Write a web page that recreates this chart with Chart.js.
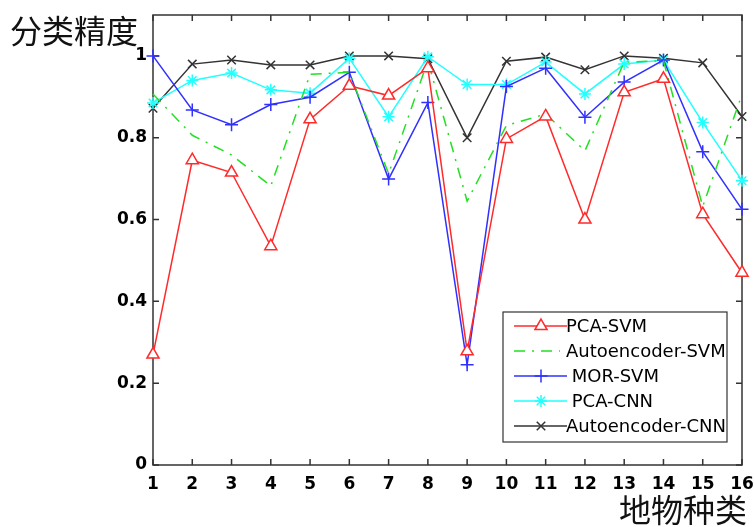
<!DOCTYPE html>
<html>
<head>
<meta charset="utf-8">
<script src="https://cdn.jsdelivr.net/npm/chart.js@4/dist/chart.umd.min.js"></script>
<style>
  html, body { margin: 0; padding: 0; background: #fff; }
  #wrap { width: 754px; height: 527px; }
</style>
</head>
<body>
<div id="wrap"><canvas id="accChart" width="754" height="527"></canvas></div>
<script>
// classes 1..16 and per-class accuracy for each method
const classes = [1, 2, 3, 4, 5, 6, 7, 8, 9, 10, 11, 12, 13, 14, 15, 16];
const yTicks = [0, 0.2, 0.4, 0.6, 0.8, 1.0];

const pcaSvm = [0.270, 0.745, 0.715, 0.535, 0.845, 0.927, 0.903, 0.970, 0.278, 0.797, 0.852, 0.600, 0.911, 0.944, 0.613, 0.470];
const aeSvm  = [0.907, 0.806, 0.758, 0.682, 0.955, 0.960, 0.712, 0.988, 0.645, 0.830, 0.858, 0.768, 0.985, 0.988, 0.632, 0.906];
const morSvm = [1.000, 0.868, 0.832, 0.881, 0.899, 0.960, 0.699, 0.886, 0.245, 0.925, 0.970, 0.850, 0.936, 0.990, 0.766, 0.625];
const pcaCnn = [0.885, 0.940, 0.958, 0.917, 0.909, 0.994, 0.851, 0.998, 0.930, 0.930, 0.985, 0.907, 0.980, 0.990, 0.837, 0.695];
const aeCnn  = [0.872, 0.980, 0.990, 0.978, 0.978, 1.000, 1.000, 0.993, 0.800, 0.987, 0.997, 0.966, 1.000, 0.994, 0.983, 0.852];

const tickFont = { family: 'DejaVu Sans', size: 17, weight: 'bold' };

function series(label, values, color, style, radius, dash) {
    return {
        label: label,
        data: values.map((v, i) => ({ x: classes[i], y: v })),
        borderColor: color,
        borderWidth: 1.5,
        borderDash: dash || [],
        pointStyle: style,
        pointRadius: style ? radius : 0,
        pointHoverRadius: style ? radius : 0,
        pointBorderColor: color,
        pointBackgroundColor: '#ffffff',
        pointBorderWidth: 1.5,
        tension: 0,
        fill: false,
        clip: false
    };
}

// box with inward ticks on all four sides, axis names, legend inside the plot
let framePlugin = {
    id: 'frame',
    beforeDatasetsDraw(chart) {
        const ctx = chart.ctx;
        const a = chart.chartArea;
        const xs = chart.scales.x, ys = chart.scales.y;
        ctx.save();
        ctx.strokeStyle = '#333333';
        ctx.lineWidth = 1.5;
        ctx.strokeRect(a.left, a.top, a.right - a.left, a.bottom - a.top);
        ctx.beginPath();
        classes.forEach(c => {
            const px = xs.getPixelForValue(c);
            ctx.moveTo(px, a.bottom); ctx.lineTo(px, a.bottom - 6);
            ctx.moveTo(px, a.top); ctx.lineTo(px, a.top + 6);
        });
        yTicks.forEach(t => {
            const py = ys.getPixelForValue(t);
            ctx.moveTo(a.left, py); ctx.lineTo(a.left + 6, py);
            ctx.moveTo(a.right, py); ctx.lineTo(a.right - 6, py);
        });
        ctx.stroke();
        ctx.restore();
    },
    afterDraw(chart) {
        const ctx = chart.ctx;
        ctx.save();
        ctx.fillStyle = '#111111';
        ctx.font = '32px "Noto Sans CJK SC"';
        ctx.textBaseline = 'middle';
        ctx.textAlign = 'left';
        ctx.fillText('分类精度', 10, 31);
        ctx.textAlign = 'right';
        ctx.fillText('地物种类', 747, 510);

        // legend
        const bx = 503, by = 312, bw = 224, bh = 130;
        ctx.fillStyle = '#ffffff';
        ctx.fillRect(bx, by, bw, bh);
        ctx.strokeStyle = '#333333';
        ctx.lineWidth = 1.2;
        ctx.strokeRect(bx, by, bw, bh);
        ctx.font = '18px "DejaVu Sans"';
        ctx.textAlign = 'left';
        chart.data.datasets.forEach((ds, i) => {
            const y = 326 + i * 25;
            ctx.strokeStyle = ds.borderColor;
            ctx.lineWidth = ds.borderWidth;
            ctx.setLineDash(ds.borderDash);
            ctx.beginPath();
            ctx.moveTo(514, y);
            ctx.lineTo(ds.borderDash.length ? 560 : 567, y);
            ctx.stroke();
            ctx.setLineDash([]);
            if (ds.pointStyle && Chart.helpers && Chart.helpers.drawPoint) {
                ctx.fillStyle = ds.pointBackgroundColor;
                ctx.strokeStyle = ds.pointBorderColor;
                ctx.lineWidth = ds.pointBorderWidth;
                Chart.helpers.drawPoint(ctx, {
                    pointStyle: ds.pointStyle, radius: ds.pointRadius,
                    rotation: 0, borderWidth: ds.pointBorderWidth
                }, 541, y);
            }
            ctx.fillStyle = '#000000';
            ctx.fillText(ds.label, 566, y + 1);
        });
        ctx.restore();
    }
};

// keep edge labels from shrinking the plot area
function noOverflow(s) {
    s.paddingLeft = 0; s.paddingRight = 0;
    s.paddingTop = 0; s.paddingBottom = 0;
}

let accChart = new Chart(document.getElementById('accChart').getContext('2d'), {
    type: 'line',
    data: {
        datasets: [
            series('PCA-SVM', pcaSvm, '#ff2a2a', 'triangle', 7),
            series('Autoencoder-SVM', aeSvm, '#22e022', null, 0, [11, 7, 2, 7]),
            series(' MOR-SVM', morSvm, '#3030ff', 'cross', 6.5),
            series(' PCA-CNN', pcaCnn, '#22ffff', 'star', 6),
            series('Autoencoder-CNN', aeCnn, '#333333', 'crossRot', 6)
        ]
    },
    options: {
        responsive: false,
        animation: false,
        devicePixelRatio: 1,
        layout: { padding: { top: 15, right: 12, left: 0, bottom: 0 } },
        plugins: {
            legend: { display: false },
            tooltip: { enabled: false }
        },
        scales: {
            x: {
                type: 'linear',
                min: 1,
                max: 16,
                grid: { display: false },
                border: { display: false },
                afterBuildTicks: s => { s.ticks = classes.map(c => ({ value: c })); },
                afterFit: s => { s.height = 62; noOverflow(s); },
                ticks: {
                    color: '#000000',
                    font: tickFont,
                    padding: 1,
                    maxRotation: 0,
                    autoSkip: false,
                    callback: v => String(v)
                }
            },
            y: {
                type: 'linear',
                min: 0,
                max: 1.1,
                grid: { display: false },
                border: { display: false },
                afterBuildTicks: s => { s.ticks = yTicks.map(t => ({ value: t })); },
                afterFit: s => { s.width = 153; noOverflow(s); },
                ticks: {
                    color: '#000000',
                    font: tickFont,
                    padding: -2,
                    callback: v => String(+v.toFixed(1))
                }
            }
        }
    },
    plugins: [framePlugin]
});
</script>
</body>
</html>
